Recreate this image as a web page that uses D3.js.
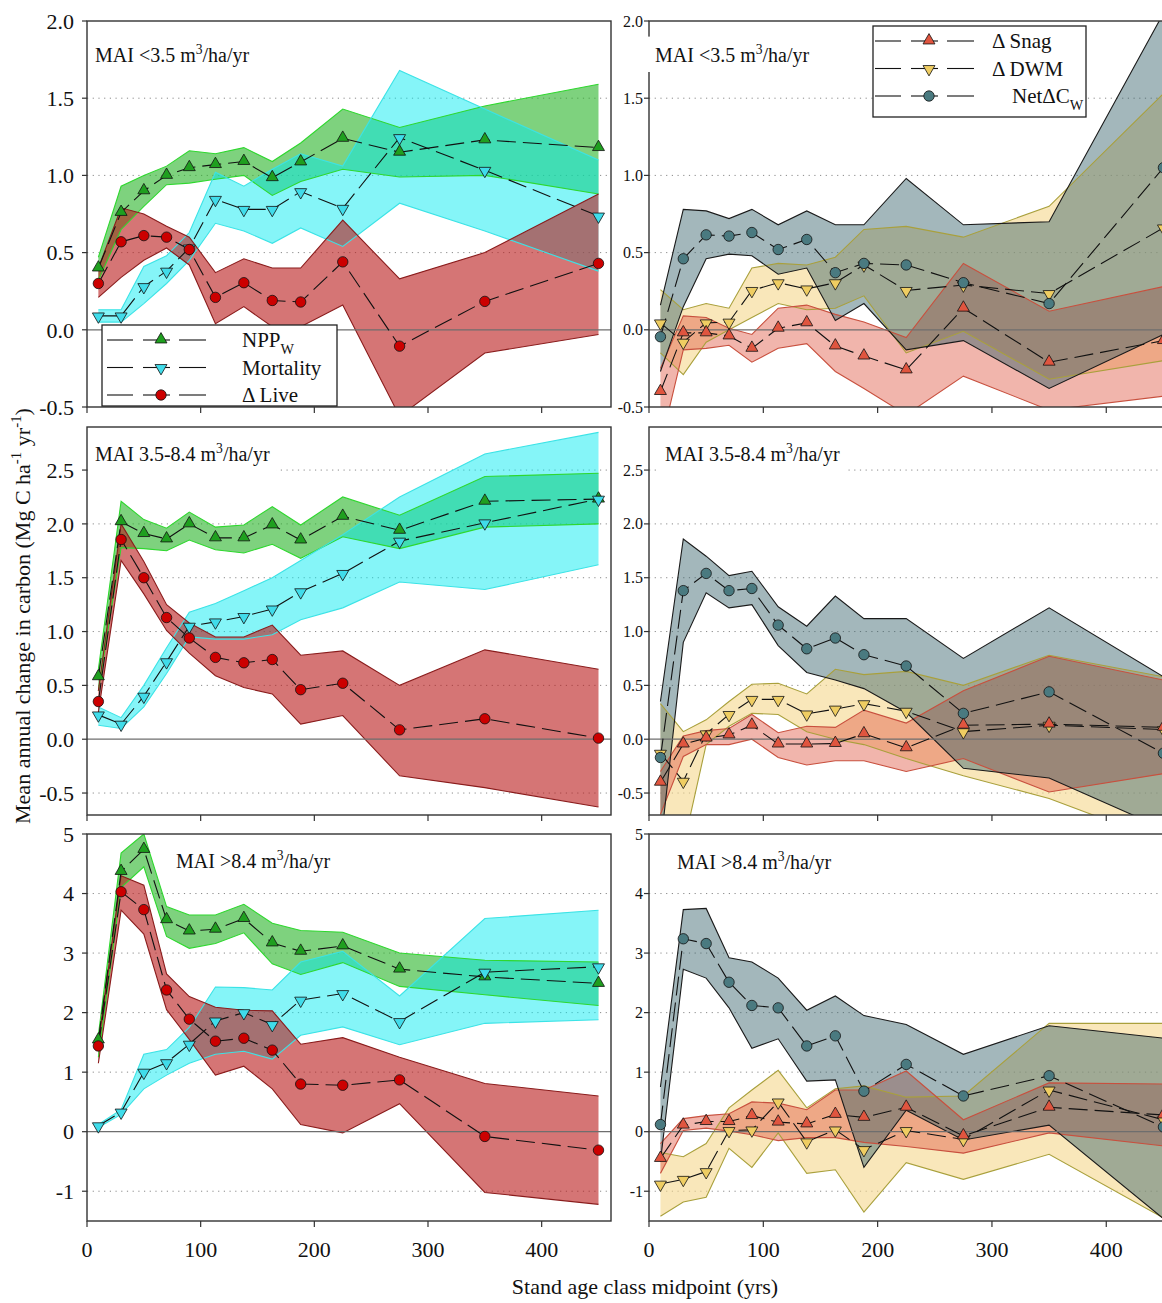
<!DOCTYPE html>
<html><head><meta charset="utf-8">
<script src="https://cdn.jsdelivr.net/npm/d3@7"></script>
<style>
body{margin:0;background:#fff}
svg{display:block}
text{font-family:"Liberation Serif","Times New Roman",serif;fill:#111}
</style>
</head><body>
<svg id="c" width="1162" height="1303"></svg>
<script>
// ---------- DATA ----------
const ages = [10,30,50,70,90,113,138,163,188,225,275,350,450];
const xTicks = [0,100,200,300,400];

// Row 1: MAI < 3.5
const npp1   = [0.40,0.76,0.90,1.00,1.05,1.07,1.09,0.985,1.087,1.24,1.15,1.23,1.18];
const npp1Hi = [0.47,0.93,1.00,1.06,1.16,1.14,1.18,1.09,1.21,1.43,1.31,1.45,1.59];
const npp1Lo = [0.32,0.65,0.80,0.94,0.95,0.975,1.00,0.87,0.96,1.04,0.99,1.00,0.88];
const mort1   = [0.09,0.09,0.28,0.38,0.53,0.845,0.78,0.78,0.895,0.787,1.245,1.033,0.737];
const mort1Hi = [0.13,0.13,0.41,0.48,0.63,1.02,0.93,1.04,1.14,1.06,1.68,1.43,1.10];
const mort1Lo = [0.05,0.05,0.17,0.30,0.45,0.69,0.64,0.56,0.66,0.54,0.82,0.64,0.38];
const live1   = [0.30,0.57,0.61,0.60,0.52,0.21,0.305,0.19,0.18,0.44,-0.106,0.184,0.43];
const live1Hi = [0.40,0.79,0.75,0.67,0.60,0.37,0.46,0.40,0.40,0.71,0.33,0.50,0.88];
const live1Lo = [0.21,0.34,0.45,0.53,0.42,0.04,0.15,0.02,0.02,0.16,-0.56,-0.15,-0.03];
const snag1   = [-0.40,-0.02,-0.02,-0.04,-0.12,0.01,0.045,-0.105,-0.17,-0.26,0.14,-0.21,-0.07];
const snag1Hi = [-0.25,0.09,0.08,0.01,-0.03,0.14,0.16,0.10,0.05,-0.05,0.43,0.12,0.28];
const snag1Lo = [-0.75,-0.13,-0.12,-0.10,-0.21,-0.12,-0.09,-0.27,-0.38,-0.55,-0.30,-0.52,-0.43];
const dwm1   = [0.045,-0.08,0.045,0.05,0.255,0.305,0.265,0.305,0.42,0.255,0.29,0.235,0.66];
const dwm1Hi = [0.26,0.13,0.17,0.14,0.40,0.43,0.42,0.47,0.65,0.67,0.60,0.80,1.53];
const dwm1Lo = [-0.15,-0.29,-0.08,0.00,0.08,0.17,0.13,0.14,0.22,-0.15,-0.01,-0.32,-0.20];
const net1   = [-0.045,0.46,0.615,0.607,0.63,0.52,0.585,0.37,0.43,0.42,0.305,0.17,1.05];
const net1Hi = [0.16,0.78,0.77,0.72,0.78,0.68,0.77,0.68,0.68,0.98,0.68,0.70,2.05];
const net1Lo = [-0.27,0.15,0.46,0.49,0.48,0.36,0.40,0.06,0.17,-0.13,-0.07,-0.38,-0.03];

// Row 2: MAI 3.5-8.4
const npp2   = [0.58,2.02,1.91,1.86,2.00,1.87,1.87,1.99,1.85,2.07,1.94,2.21,2.23];
const npp2Hi = [0.65,2.21,2.04,1.96,2.11,1.97,1.99,2.16,1.99,2.25,2.08,2.44,2.47];
const npp2Lo = [0.45,1.78,1.77,1.75,1.85,1.76,1.73,1.81,1.68,1.88,1.77,1.97,2.00];
const mort2   = [0.226,0.14,0.40,0.72,1.05,1.09,1.14,1.21,1.37,1.54,1.84,2.01,2.23];
const mort2Hi = [0.30,0.20,0.50,0.85,1.18,1.26,1.38,1.50,1.66,1.90,2.25,2.65,2.85];
const mort2Lo = [0.13,0.10,0.30,0.61,0.95,0.93,0.93,0.97,1.11,1.22,1.46,1.39,1.62];
const live2   = [0.35,1.855,1.50,1.13,0.94,0.76,0.71,0.74,0.46,0.52,0.087,0.19,0.01];
const live2Hi = [0.45,2.00,1.65,1.25,1.08,0.95,0.95,1.06,0.78,0.82,0.50,0.83,0.65];
const live2Lo = [0.25,1.66,1.35,1.01,0.80,0.59,0.48,0.42,0.14,0.22,-0.34,-0.45,-0.63];
const snag2   = [-0.40,-0.045,0.01,0.04,0.13,-0.045,-0.045,-0.04,0.05,-0.08,0.13,0.14,0.11];
const snag2Hi = [-0.30,0.03,0.08,0.10,0.23,0.06,0.12,0.11,0.27,0.15,0.45,0.77,0.55];
const snag2Lo = [-0.70,-0.16,-0.05,-0.05,0.00,-0.17,-0.24,-0.20,-0.20,-0.30,-0.18,-0.49,-0.32];
const dwm2   = [-0.13,-0.39,0.05,0.23,0.37,0.37,0.235,0.28,0.33,0.26,0.07,0.13,0.09];
const dwm2Hi = [0.33,0.07,0.18,0.35,0.51,0.52,0.42,0.65,0.60,0.63,0.50,0.78,0.58];
const dwm2Lo = [-1.00,-1.00,-0.05,0.12,0.24,0.23,0.07,0.00,-0.05,-0.18,-0.34,-0.55,-0.95];
const net2   = [-0.17,1.38,1.54,1.38,1.40,1.06,0.84,0.94,0.785,0.68,0.24,0.44,-0.13];
const net2Hi = [0.35,1.86,1.70,1.52,1.56,1.23,1.05,1.33,1.12,1.12,0.75,1.22,0.58];
const net2Lo = [-1.00,0.90,1.36,1.22,1.25,0.87,0.62,0.55,0.47,0.25,-0.27,-0.36,-0.83];

// Row 3: MAI > 8.4
const npp3   = [1.54,4.37,4.74,3.56,3.37,3.40,3.58,3.17,3.03,3.12,2.73,2.60,2.49];
const npp3Hi = [1.62,4.68,5.00,3.78,3.64,3.64,3.82,3.50,3.38,3.35,3.00,2.88,2.85];
const npp3Lo = [1.25,4.10,4.45,3.28,3.08,3.16,3.34,2.82,2.64,2.84,2.44,2.30,2.12];
const mort3   = [0.10,0.33,1.00,1.16,1.47,1.86,2.00,1.80,2.21,2.32,1.85,2.68,2.77];
const mort3Hi = [0.12,0.37,1.30,1.38,1.75,2.43,2.42,2.38,2.85,3.03,2.28,3.58,3.72];
const mort3Lo = [0.07,0.29,0.72,0.95,1.15,1.30,1.35,1.22,1.62,1.76,1.46,1.82,1.88];
const live3   = [1.44,4.03,3.73,2.38,1.89,1.52,1.57,1.37,0.80,0.78,0.87,-0.08,-0.31];
const live3Hi = [1.50,4.30,4.14,2.65,2.27,2.09,2.04,2.03,1.47,1.58,1.25,0.81,0.60];
const live3Lo = [1.15,3.72,3.32,2.05,1.55,0.95,1.10,0.72,0.12,-0.02,0.47,-1.02,-1.22];
const snag3   = [-0.45,0.11,0.17,0.17,0.27,0.16,0.13,0.29,0.24,0.41,-0.07,0.41,0.28];
const snag3Hi = [-0.20,0.22,0.27,0.30,0.50,0.48,0.37,0.70,0.70,1.02,0.20,0.82,0.80];
const snag3Lo = [-0.70,0.02,0.06,0.01,-0.05,-0.15,-0.10,-0.10,-0.18,-0.25,-0.36,-0.02,-0.24];
const dwm3   = [-0.88,-0.80,-0.67,0.02,0.03,0.50,-0.17,0.03,-0.30,0.02,-0.13,0.70,0.20];
const dwm3Hi = [-0.35,-0.42,-0.20,0.40,0.70,1.03,0.40,0.72,0.77,0.58,0.60,1.82,1.82];
const dwm3Lo = [-1.42,-1.18,-1.10,-0.28,-0.60,-0.02,-0.70,-0.64,-1.35,-0.52,-0.80,-0.38,-1.45];
const net3   = [0.12,3.24,3.16,2.51,2.12,2.08,1.44,1.61,0.68,1.13,0.60,0.94,0.08];
const net3Hi = [0.75,3.73,3.75,2.92,2.85,2.58,2.04,2.28,1.95,1.80,1.30,1.78,1.57];
const net3Lo = [-0.50,2.73,2.58,2.08,1.40,1.56,0.85,0.87,-0.60,0.36,-0.14,0.11,-1.46];

const yTicks1 = [-0.5,0,0.5,1.0,1.5,2.0];
const yTicks2 = [-0.5,0,0.5,1.0,1.5,2.0,2.5];
const yTicks3 = [-1,0,1,2,3,4,5];

const panelLabels = ["MAI <3.5 m", "MAI 3.5-8.4 m", "MAI >8.4 m"];
const legendLeft = ["NPP", "Mortality", "\u0394 Live"];
const legendRight = ["\u0394 Snag", "\u0394 DWM", "Net\u0394C"];

// ---------- STYLE ----------
const S = {
  npp:  {fill:'rgb(40,180,40)',  fo:0.6,  edge:'#2ed82e', mk:'#1f9f1f', shape:'up'},
  mort: {fill:'rgb(0,235,240)',  fo:0.48, edge:'#3be3e6', mk:'#40dcea', shape:'down'},
  live: {fill:'rgb(185,25,25)',  fo:0.6,  edge:'#8a1c1c', mk:'#cc0000', shape:'circle'},
  dwm:  {fill:'rgb(245,215,140)',fo:0.6,  edge:'#a9a03c', mk:'#efcd62', shape:'down'},
  snag: {fill:'rgb(225,90,70)',  fo:0.45, edge:'#c8503e', mk:'#e0553f', shape:'up'},
  net:  {fill:'rgb(50,95,105)',  fo:0.45, edge:'#1a1a1a', mk:'#4a7a80', shape:'circle'}
};

const svg = d3.select('#c');
const fmt1 = v => v.toFixed(1);
const fmt0 = v => String(v);

const rows = [
  {dom:[-0.5,2.0], rng:[407,21], ticks:yTicks1, fmt:fmt1,
   L:[['npp',npp1,npp1Lo,npp1Hi],['mort',mort1,mort1Lo,mort1Hi],['live',live1,live1Lo,live1Hi]],
   R:[['dwm',dwm1,dwm1Lo,dwm1Hi],['snag',snag1,snag1Lo,snag1Hi],['net',net1,net1Lo,net1Hi]],
   lab:panelLabels[0], labL:[95,62], labR:[655,62]},
  {dom:[-0.704,2.90], rng:[815,427], ticks:yTicks2, fmt:fmt1,
   L:[['npp',npp2,npp2Lo,npp2Hi],['mort',mort2,mort2Lo,mort2Hi],['live',live2,live2Lo,live2Hi]],
   R:[['dwm',dwm2,dwm2Lo,dwm2Hi],['snag',snag2,snag2Lo,snag2Hi],['net',net2,net2Lo,net2Hi]],
   lab:panelLabels[1], labL:[95,461], labR:[665,461]},
  {dom:[-1.5,5], rng:[1221,834], ticks:yTicks3, fmt:fmt0,
   L:[['npp',npp3,npp3Lo,npp3Hi],['mort',mort3,mort3Lo,mort3Hi],['live',live3,live3Lo,live3Hi]],
   R:[['dwm',dwm3,dwm3Lo,dwm3Hi],['snag',snag3,snag3Lo,snag3Hi],['net',net3,net3Lo,net3Hi]],
   lab:panelLabels[2], labL:[176,868], labR:[677,869]}
];

const cols = [
  {key:'L', rng:[87,611], tickFs:22},
  {key:'R', rng:[649,1176], tickFs:16}
];

function rich(g, x, y, parts, fs, anchor) {
  const t = g.append('text').attr('x',x).attr('y',y).attr('font-size',fs)
    .attr('text-anchor',anchor||'start');
  let shift = 0;
  parts.forEach(([s,k]) => {
    const target = k==='sup' ? -fs*0.42 : (k==='sub' ? fs*0.32 : 0);
    const ts = t.append('tspan').attr('dy', target-shift).text(s);
    if (k) ts.attr('font-size', fs*0.68);
    shift = target;
  });
  return t;
}

function marker(g, shape, cx, cy, color) {
  if (shape==='circle') {
    g.append('circle').attr('cx',cx).attr('cy',cy).attr('r',5.2)
      .attr('fill',color).attr('stroke','#111').attr('stroke-width',0.8);
  } else {
    const p = d3.symbol().type(d3.symbolTriangle).size(62)();
    g.append('path').attr('d',p)
      .attr('transform',`translate(${cx},${cy + (shape==='up'?-0.5:0.5)})${shape==='down'?' rotate(180)':''}`)
      .attr('fill',color).attr('stroke','#111').attr('stroke-width',0.8);
  }
}

let clipId = 0;
rows.forEach((row) => {
  const y = d3.scaleLinear().domain(row.dom).range(row.rng);
  cols.forEach((col) => {
    const x = d3.scaleLinear().domain([0,461]).range(col.rng);
    const g = svg.append('g');
    const x0 = col.rng[0], x1 = col.rng[1], yTop = row.rng[1], yBot = row.rng[0];
    const id = 'clip'+(clipId++);
    svg.append('clipPath').attr('id',id).append('rect')
      .attr('x',x0).attr('y',yTop).attr('width',x1-x0).attr('height',yBot-yTop);

    // grid
    row.ticks.filter(t => t!==0 && y(t) > yTop+2 && y(t) < yBot-2).forEach(t => {
      g.append('line').attr('x1',x0).attr('x2',x1).attr('y1',y(t)).attr('y2',y(t))
        .attr('stroke','#8a8a8a').attr('stroke-width',1).attr('stroke-dasharray','1.2,4.5');
    });

    const series = row[col.key];
    const pg = g.append('g').attr('clip-path',`url(#${id})`);
    // bands
    series.forEach(([k,mean,lo,hi]) => {
      const st = S[k];
      const data = ages.map((a,i)=>({a, lo:lo[i], hi:hi[i]}));
      pg.append('path').datum(data)
        .attr('d', d3.area().x(d=>x(d.a)).y0(d=>y(d.lo)).y1(d=>y(d.hi)))
        .attr('fill', st.fill).attr('fill-opacity', st.fo);
    });
    series.forEach(([k,mean,lo,hi]) => {
      const st = S[k];
      const data = ages.map((a,i)=>({a, lo:lo[i], hi:hi[i]}));
      ['lo','hi'].forEach(f => {
        pg.append('path').datum(data)
          .attr('d', d3.line().x(d=>x(d.a)).y(d=>y(d[f])))
          .attr('fill','none').attr('stroke', st.edge).attr('stroke-width',1.1);
      });
    });
    // zero line
    pg.append('line').attr('x1',x0).attr('x2',x1).attr('y1',y(0)).attr('y2',y(0))
      .attr('stroke','#6e6e6e').attr('stroke-width',1.2);
    // mean lines
    series.forEach(([k,mean]) => {
      const data = ages.map((a,i)=>({a, v:mean[i]}));
      pg.append('path').datum(data)
        .attr('d', d3.line().x(d=>x(d.a)).y(d=>y(d.v)))
        .attr('fill','none').attr('stroke','#111').attr('stroke-width',1.1)
        .attr('stroke-dasharray','19,7');
    });
    // markers
    const mg = g.append('g');
    series.forEach(([k,mean]) => {
      const st = S[k];
      ages.forEach((a,i) => {
        const yy = y(mean[i]);
        if (yy >= yTop-3 && yy <= yBot+3) marker(mg, st.shape, x(a), yy, st.mk);
      });
    });

    // frame
    g.append('rect').attr('x',x0).attr('y',yTop).attr('width',x1-x0).attr('height',yBot-yTop)
      .attr('fill','none').attr('stroke','#333').attr('stroke-width',1.4);
    // y ticks + labels
    row.ticks.forEach(t => {
      g.append('line').attr('x1',x0-5).attr('x2',x0).attr('y1',y(t)).attr('y2',y(t))
        .attr('stroke','#333').attr('stroke-width',1.2);
      g.append('text').attr('x', col.key==='L' ? x0-13 : x0-6).attr('y', y(t))
        .attr('dy','0.35em').attr('text-anchor','end').attr('font-size', col.tickFs)
        .text(row.fmt(t));
    });
    // x ticks
    xTicks.forEach(t => {
      g.append('line').attr('x1',x(t)).attr('x2',x(t)).attr('y1',yBot).attr('y2',yBot+6)
        .attr('stroke','#333').attr('stroke-width',1.2);
      if (row === rows[2]) {
        g.append('text').attr('x',x(t)).attr('y',yBot+36).attr('text-anchor','middle')
          .attr('font-size',22).text(t);
      }
    });

    // panel label with white box
    const lp = col.key==='L' ? row.labL : row.labR;
    const lg = g.append('g');
    const lt = rich(lg, lp[0], lp[1], [[row.lab,''],['3','sup'],['/ha/yr','']], 20);
    const bb = lt.node().getBBox();
    lg.insert('rect','text').attr('x',bb.x-7).attr('y',bb.y-5).attr('width',bb.width+14)
      .attr('height',bb.height+10).attr('fill','#fff');
  });
});

// legends
function legend(x, yBox, w, h, keys, labels, lineX, labX) {
  const g = svg.append('g');
  g.append('rect').attr('x',x).attr('y',yBox).attr('width',w).attr('height',h)
    .attr('fill','#fff').attr('stroke','#222').attr('stroke-width',1.3);
  keys.forEach((k,i) => {
    const yy = yBox + 15 + i*27.5;
    [[0,26],[36,63],[72,99]].forEach(([a,b]) => {
      g.append('line').attr('x1',lineX+a).attr('x2',lineX+b).attr('y1',yy).attr('y2',yy)
        .attr('stroke','#111').attr('stroke-width',1.1);
    });
    marker(g, S[k].shape, lineX+54, yy, S[k].mk);
    const lab = labels[i];
    const lx = labX[i];
    if (i===0 && lab==='NPP') rich(g, lx, yy+7, [[lab,''],['W','sub']], 21);
    else if (lab.startsWith('Net')) rich(g, lx, yy+7, [[lab,''],['W','sub']], 21);
    else rich(g, lx, yy+7, [[lab,'']], 21);
  });
}
legend(102, 325, 235, 81, ['npp','mort','live'], legendLeft, 107, [242,242,242]);
legend(873, 26, 213, 91, ['snag','dwm','net'], legendRight, 875, [992,992,1012]);

// axis titles
rich(svg.append('g').attr('transform','translate(30,616) rotate(-90)'), 0, 0,
  [['Mean annual change in carbon (Mg C ha',''],['-1','sup'],[' yr',''],['-1','sup'],[')','']], 22, 'middle');
svg.append('text').attr('x',645).attr('y',1294).attr('text-anchor','middle')
  .attr('font-size',22).text('Stand age class midpoint (yrs)');
</script>
</body></html>
